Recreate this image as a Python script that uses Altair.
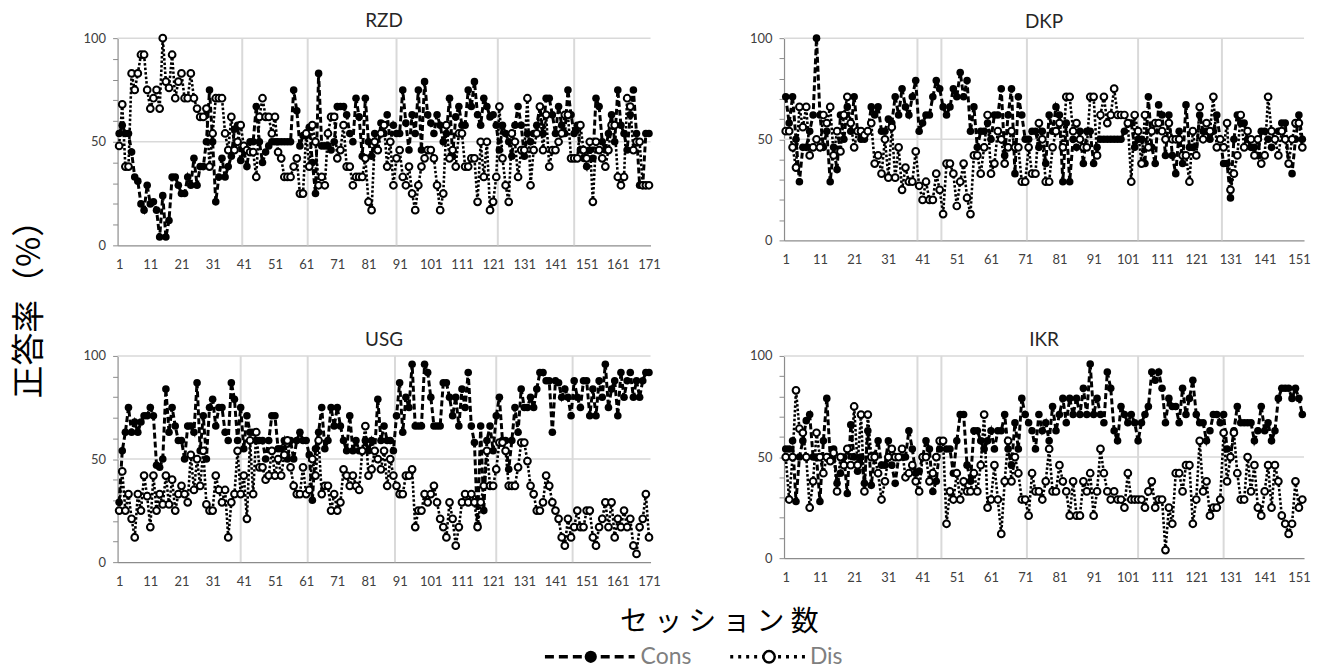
import altair as alt
import pandas as pd

# ---------------- data ----------------
RZD_CONS = [54, 58, 54, 54, 45, 33, 31, 20, 17, 29,
            20, 21, 17, 4, 24, 4, 12, 33, 33, 29,
            25, 25, 33, 29, 42, 29, 38, 38, 50, 75,
            50, 21, 33, 42, 33, 38, 43, 56, 58, 41,
            46, 38, 50, 50, 67, 50, 40, 45, 48, 50,
            50, 50, 50, 50, 50, 50, 75, 65, 48, 53,
            53, 57, 40, 25, 83, 48, 48, 48, 46, 50,
            67, 67, 67, 63, 54, 50, 71, 62, 43, 71,
            50, 43, 54, 46, 59, 54, 63, 50, 58, 54,
            54, 75, 59, 46, 63, 54, 75, 46, 79, 63,
            59, 54, 63, 58, 50, 54, 71, 43, 62, 67,
            58, 58, 75, 67, 79, 63, 58, 71, 67, 62,
            63, 58, 46, 58, 54, 50, 43, 58, 67, 58,
            43, 54, 50, 54, 58, 67, 54, 71, 71, 63,
            54, 67, 58, 54, 75, 63, 54, 58, 46, 42,
            38, 46, 42, 71, 67, 50, 46, 54, 63, 50,
            75, 58, 54, 46, 63, 75, 54, 29, 29, 54,
            54]
RZD_DIS = [48, 68, 38, 38, 83, 75, 83, 92, 92, 75,
           66, 71, 75, 66, 100, 79, 76, 92, 71, 79,
           83, 71, 71, 83, 71, 66, 62, 62, 66, 38,
           54, 71, 71, 71, 54, 46, 62, 46, 50, 58,
           48, 46, 45, 45, 33, 62, 71, 62, 62, 54,
           62, 45, 42, 33, 33, 33, 38, 42, 25, 25,
           54, 38, 58, 50, 29, 33, 29, 54, 62, 62,
           42, 46, 58, 38, 38, 29, 33, 33, 33, 42,
           21, 17, 50, 46, 54, 58, 38, 50, 29, 42,
           46, 33, 29, 38, 25, 17, 29, 38, 42, 46,
           46, 42, 29, 17, 25, 58, 42, 46, 38, 54,
           54, 38, 38, 42, 42, 21, 50, 33, 50, 17,
           21, 33, 67, 42, 29, 21, 54, 50, 33, 46,
           46, 71, 29, 46, 54, 67, 46, 63, 38, 46,
           46, 50, 54, 63, 63, 42, 42, 42, 58, 46,
           42, 50, 21, 50, 46, 42, 38, 46, 58, 58,
           33, 29, 33, 71, 67, 46, 50, 50, 29, 29,
           29]
DKP_CONS = [71, 58, 71, 50, 29, 46, 46, 54, 62, 100,
            62, 46, 54, 29, 46, 35, 62, 50, 66, 54,
            71, 54, 50, 50, 54, 66, 62, 66, 54, 54,
            60, 58, 71, 62, 75, 66, 62, 71, 79, 54,
            58, 62, 62, 71, 79, 75, 66, 62, 66, 75,
            71, 83, 71, 79, 54, 66, 46, 54, 54, 58,
            50, 62, 62, 75, 42, 62, 75, 33, 71, 62,
            50, 50, 54, 54, 46, 54, 38, 62, 54, 66,
            62, 29, 58, 29, 50, 46, 54, 38, 54, 54,
            38, 46, 50, 50, 50, 50, 50, 50, 50, 54,
            58, 58, 46, 50, 50, 38, 71, 46, 38, 67,
            62, 42, 62, 42, 33, 54, 38, 67, 46, 46,
            42, 62, 54, 54, 50, 54, 62, 50, 38, 38,
            21, 50, 62, 58, 58, 50, 46, 46, 42, 54,
            54, 50, 46, 50, 54, 58, 58, 38, 33, 50,
            62, 50]
DKP_DIS = [54, 54, 46, 36, 66, 56, 66, 42, 46, 50,
           46, 62, 58, 66, 42, 54, 44, 62, 71, 58,
           46, 54, 54, 52, 54, 58, 38, 42, 33, 50,
           31, 56, 31, 46, 25, 36, 29, 29, 44, 27,
           20, 29, 20, 20, 33, 25, 13, 38, 38, 33,
           17, 29, 38, 21, 13, 42, 42, 33, 46, 62,
           33, 38, 54, 50, 38, 46, 54, 46, 46, 29,
           29, 46, 33, 33, 58, 50, 29, 29, 46, 54,
           58, 46, 71, 71, 54, 58, 50, 46, 46, 71,
           71, 42, 62, 71, 58, 62, 75, 62, 62, 62,
           58, 29, 62, 54, 38, 62, 46, 54, 58, 58,
           54, 50, 58, 50, 50, 50, 42, 42, 29, 54,
           42, 66, 50, 58, 54, 71, 46, 50, 46, 58,
           25, 33, 42, 62, 46, 54, 50, 42, 50, 38,
           42, 71, 54, 50, 42, 54, 50, 38, 50, 58,
           58, 46]
USG_CONS = [29, 54, 63, 75, 63, 68, 63, 68, 71, 71,
            75, 71, 47, 46, 50, 84, 63, 75, 66, 59,
            59, 50, 66, 66, 63, 87, 54, 71, 50, 75,
            79, 66, 75, 75, 63, 59, 87, 79, 59, 75,
            55, 71, 63, 63, 59, 59, 59, 50, 59, 71,
            71, 55, 55, 59, 50, 59, 50, 59, 63, 59,
            59, 52, 30, 55, 63, 75, 55, 59, 75, 66,
            75, 66, 59, 54, 71, 54, 59, 54, 54, 59,
            54, 59, 54, 79, 59, 66, 59, 59, 54, 71,
            87, 63, 80, 75, 96, 66, 66, 66, 96, 92,
            80, 66, 66, 66, 87, 87, 80, 71, 80, 66,
            84, 75, 92, 66, 58, 18, 66, 25, 59, 66,
            54, 71, 80, 59, 59, 45, 59, 75, 63, 84,
            75, 75, 80, 75, 84, 92, 92, 88, 88, 63,
            88, 87, 80, 84, 80, 71, 88, 80, 75, 88,
            88, 71, 84, 71, 88, 80, 96, 75, 84, 88,
            71, 92, 80, 88, 92, 80, 88, 80, 88, 92,
            92]
USG_DIS = [25, 44, 25, 33, 21, 12, 33, 25, 42, 32,
           17, 42, 25, 33, 28, 42, 28, 40, 25, 33,
           37, 33, 29, 52, 35, 50, 37, 54, 28, 25,
           25, 42, 35, 29, 35, 12, 29, 33, 54, 33,
           42, 21, 59, 33, 63, 46, 46, 40, 42, 54,
           42, 50, 42, 52, 59, 46, 37, 33, 33, 46,
           33, 35, 50, 42, 59, 33, 37, 37, 25, 33,
           25, 29, 45, 42, 37, 42, 37, 35, 54, 66,
           42, 45, 54, 50, 45, 54, 37, 50, 42, 37,
           33, 33, 42, 42, 45, 17, 25, 25, 33, 29,
           33, 37, 29, 21, 17, 12, 29, 21, 8, 17,
           29, 33, 29, 33, 29, 17, 29, 37, 54, 37,
           37, 45, 58, 58, 54, 37, 37, 37, 46, 58,
           58, 49, 37, 33, 25, 25, 29, 42, 37, 29,
           25, 21, 12, 8, 21, 12, 17, 25, 17, 17,
           25, 25, 12, 8, 17, 21, 29, 17, 29, 12,
           21, 17, 25, 17, 21, 8, 4, 17, 21, 33,
           12]
IKR_CONS = [54, 54, 58, 28, 50, 58, 68, 71, 50, 50,
            28, 58, 79, 50, 54, 37, 42, 50, 32, 66,
            50, 43, 50, 37, 63, 36, 51, 58, 46, 46,
            58, 46, 37, 50, 50, 50, 63, 54, 42, 43,
            50, 58, 54, 33, 38, 54, 58, 54, 54, 42,
            58, 71, 71, 46, 38, 63, 63, 58, 54, 58,
            63, 54, 63, 63, 71, 54, 46, 67, 54, 79,
            71, 67, 63, 54, 71, 63, 67, 58, 75, 63,
            71, 79, 67, 79, 71, 79, 71, 84, 71, 96,
            71, 79, 71, 67, 92, 84, 63, 58, 75, 71,
            67, 71, 67, 58, 67, 71, 75, 92, 88, 92,
            84, 67, 79, 75, 75, 67, 84, 71, 79, 88,
            71, 67, 67, 58, 63, 71, 71, 67, 71, 54,
            50, 63, 75, 67, 67, 67, 67, 58, 63, 75,
            63, 67, 58, 63, 79, 84, 84, 84, 79, 84,
            79, 71]
IKR_DIS = [50, 29, 50, 83, 64, 62, 50, 25, 38, 62,
           50, 42, 50, 48, 52, 33, 50, 46, 54, 46,
           75, 46, 71, 33, 71, 50, 50, 42, 29, 38,
           50, 54, 50, 50, 54, 40, 42, 46, 38, 33,
           50, 50, 38, 42, 50, 58, 58, 17, 33, 29,
           42, 29, 38, 33, 33, 42, 33, 46, 71, 25,
           29, 46, 29, 12, 38, 58, 38, 50, 42, 29,
           29, 21, 42, 33, 33, 29, 38, 54, 33, 33,
           46, 38, 33, 21, 38, 21, 21, 38, 33, 42,
           21, 33, 54, 42, 33, 29, 33, 29, 29, 25,
           42, 29, 29, 29, 29, 25, 33, 38, 25, 29,
           29, 4, 25, 17, 42, 42, 33, 46, 46, 17,
           29, 58, 33, 38, 21, 25, 25, 29, 62, 38,
           50, 62, 42, 29, 29, 50, 33, 46, 25, 21,
           33, 46, 25, 46, 38, 21, 17, 12, 17, 38,
           25, 29]

RZD_PHASES = [40.5, 61.5, 90.0, 122.5, 147.0]
DKP_PHASES = [39.5, 46.5, 71.5, 104.0, 128.5]
USG_PHASES = [40.0, 61.5, 89.5, 122.0, 146.5]
IKR_PHASES = [39.5, 46.5, 71.5, 104.0, 129.0]

Y_GRID = [50, 100]
Y_TICKS = list(range(0, 101, 10))
SERIES = ["Cons", "Dis"]
PANEL_TITLES = ["RZD", "DKP", "USG", "IKR"]
Y_TITLE = "正答率（%）"
X_TITLE = "セッション数"

# ---------------- styling ----------------
AXIS_GRAY = "#8c8c8c"
GRID_GRAY = "#d9d9d9"
LABEL_COLOR = "#404040"
FONT = "Lato"
JP_FONT = "Noto Sans CJK JP"
CONS_DASH = [6, 3]
DIS_DASH = [2.5, 2]


def panel(title, cons, dis, phases, width, height):
    n = len(cons)
    sessions = list(range(1, n + 1))
    df = pd.DataFrame({
        "session": sessions + sessions,
        "rate": cons + dis,
        "series": [SERIES[0]] * n + [SERIES[1]] * n,
    })
    x_ticks = list(range(1, n + 1, 10))
    x = alt.X("session:Q",
              scale=alt.Scale(domain=[0.5, n + 0.5], nice=False, zero=False),
              axis=alt.Axis(values=x_ticks, title=None, grid=False, ticks=False,
                            labelPadding=13, labelFontSize=13, labelFont=FONT,
                            labelColor=LABEL_COLOR, domainColor=AXIS_GRAY,
                            domainWidth=1.2, labelFlush=False, labelOverlap=False))
    y = alt.Y("rate:Q",
              scale=alt.Scale(domain=[0, 100], nice=False),
              axis=alt.Axis(values=Y_TICKS, title=None, grid=False, tickSize=5,
                            tickColor=AXIS_GRAY,
                            labelExpr="datum.value % 50 === 0 ? datum.label : ''",
                            labelPadding=7, labelFontSize=13, labelFont=FONT,
                            labelColor=LABEL_COLOR, domainColor=AXIS_GRAY,
                            domainWidth=1.2))
    hgrid = alt.Chart(pd.DataFrame({"rate": Y_GRID})).mark_rule(
        color=GRID_GRAY, strokeWidth=1.5).encode(y=y)
    vgrid = alt.Chart(pd.DataFrame({"session": phases})).mark_rule(
        color=GRID_GRAY, strokeWidth=2).encode(x=x)
    base = alt.Chart(df)
    cons_b = base.transform_filter(alt.datum.series == SERIES[0])
    dis_b = base.transform_filter(alt.datum.series == SERIES[1])
    cons_line = cons_b.mark_line(color="black", strokeWidth=3,
                                 strokeDash=CONS_DASH).encode(x=x, y=y)
    cons_pts = cons_b.mark_point(shape="circle", filled=True, size=58,
                                 color="black", opacity=1).encode(x=x, y=y)
    dis_line = dis_b.mark_line(color="black", strokeWidth=2.6,
                               strokeDash=DIS_DASH).encode(x=x, y=y)
    dis_pts = dis_b.mark_point(shape="circle", filled=False, size=46,
                               fill="white", fillOpacity=1, stroke="black",
                               strokeWidth=2, opacity=1).encode(x=x, y=y)
    return alt.layer(hgrid, vgrid, cons_line, cons_pts, dis_line, dis_pts).properties(
        width=width, height=height,
        title=alt.TitleParams(title, fontSize=19, font=FONT, fontWeight="normal",
                              color="#262626", offset=0, anchor="middle"))


p_rzd = panel(PANEL_TITLES[0], RZD_CONS, RZD_DIS, RZD_PHASES, 535, 208)
p_dkp = panel(PANEL_TITLES[1], DKP_CONS, DKP_DIS, DKP_PHASES, 522, 203)
p_usg = panel(PANEL_TITLES[2], USG_CONS, USG_DIS, USG_PHASES, 535, 207)
p_ikr = panel(PANEL_TITLES[3], IKR_CONS, IKR_DIS, IKR_PHASES, 522, 203)

grid = alt.vconcat(alt.hconcat(p_rzd, p_dkp, spacing=89),
                   alt.hconcat(p_usg, p_ikr, spacing=89),
                   spacing=60)

ytitle = alt.Chart(pd.DataFrame({"t": [Y_TITLE]})).mark_text(
    angle=270, fontSize=33, font=JP_FONT, color="black",
    align="center", baseline="middle").encode(
    text="t:N", x=alt.value(22), y=alt.value(264)).properties(width=52, height=520)

top = alt.hconcat(ytitle, grid, spacing=23)

# bottom: x title and legend
xt = alt.Chart(pd.DataFrame({"t": [" ".join(X_TITLE)]})).mark_text(
    fontSize=28, font=JP_FONT, color="black", align="center", baseline="middle").encode(
    text="t:N", x=alt.value(714), y=alt.value(31))
leg_df = pd.DataFrame({"series": SERIES})
leg_cons = alt.Chart(leg_df).transform_filter(alt.datum.series == SERIES[0])
leg_dis = alt.Chart(leg_df).transform_filter(alt.datum.series == SERIES[1])
LEG_Y = 65
lc_line = leg_cons.mark_rule(color="black", strokeWidth=3.5, strokeDash=[9, 5]).encode(
    x=alt.value(539), x2=alt.value(629), y=alt.value(LEG_Y))
lc_pt = leg_cons.mark_point(shape="circle", filled=True, size=150, color="black",
                            opacity=1).encode(x=alt.value(585), y=alt.value(LEG_Y))
lc_txt = leg_cons.mark_text(align="left", baseline="middle", fontSize=23, font=FONT,
                            color="#7f7f7f").encode(text="series:N", x=alt.value(635),
                                                     y=alt.value(LEG_Y))
ld_line = leg_dis.mark_rule(color="black", strokeWidth=3.5, strokeDash=[3, 5]).encode(
    x=alt.value(725), x2=alt.value(800), y=alt.value(LEG_Y))
ld_pt = leg_dis.mark_point(shape="circle", filled=False, size=130, fill="white",
                           fillOpacity=1, stroke="black", strokeWidth=2.5,
                           opacity=1).encode(x=alt.value(764), y=alt.value(LEG_Y))
ld_txt = leg_dis.mark_text(align="left", baseline="middle", fontSize=23, font=FONT,
                           color="#7f7f7f").encode(text="series:N", x=alt.value(805),
                                                    y=alt.value(LEG_Y))
bottom = alt.layer(xt, lc_line, lc_pt, lc_txt, ld_line, ld_pt, ld_txt).properties(
    width=1300, height=74)

chart = alt.vconcat(top, bottom, spacing=4).properties(
    padding={"left": 0, "right": 0, "top": 2, "bottom": 0}
).configure_view(stroke=None)

chart.save("out.html", embed_options={"renderer": "svg", "actions": False})
